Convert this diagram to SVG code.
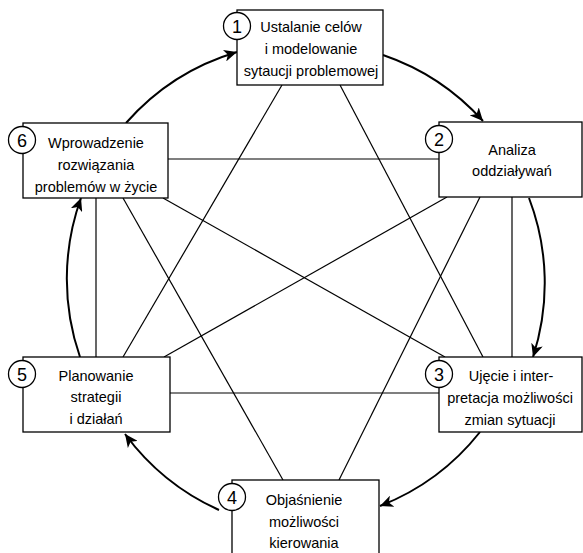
<svg xmlns="http://www.w3.org/2000/svg" width="583" height="553" viewBox="0 0 583 553">
  <style>
    .box { fill: #fff; stroke: #000; stroke-width: 1.3; }
    .num { fill: #fff; stroke: #000; stroke-width: 1.3; }
    .link { stroke: #000; stroke-width: 1.2; fill: none; }
    .cycle { stroke: #000; stroke-width: 2; fill: none; marker-end: url(#arrow); }
    text { font-family: "Liberation Sans", Arial, sans-serif; font-size: 14.5px; fill: #000; text-anchor: middle; }
    .digit { font-size: 18px; }
  </style>
  <defs>
    <marker id="arrow" markerUnits="userSpaceOnUse" markerWidth="14" markerHeight="12" refX="13" refY="6" orient="auto">
      <path d="M0,0 L13,6 L0,12 L3.5,6 Z" fill="#000"/>
    </marker>
  </defs>

  <rect width="583" height="553" fill="#fff"/>

  <!-- connectors -->
  <g id="connectors">
    <!-- straight links between the stages -->
    <line class="link" x1="168" y1="159" x2="439" y2="159"/>
    <line class="link" x1="170" y1="393" x2="439" y2="393"/>
    <line class="link" x1="96" y1="198" x2="96" y2="357"/>
    <line class="link" x1="512" y1="197" x2="512" y2="357"/>
    <line class="link" x1="123" y1="357" x2="282" y2="85"/>
    <line class="link" x1="340" y1="85" x2="483" y2="357"/>
    <line class="link" x1="163" y1="198" x2="445" y2="357"/>
    <line class="link" x1="447" y1="197" x2="164" y2="357"/>
    <line class="link" x1="123" y1="198" x2="283" y2="480"/>
    <line class="link" x1="480" y1="197" x2="339" y2="480"/>
    <!-- circular sequence 1 → 6 -->
    <path class="cycle" d="M383,55 A238,238 0 0 1 483,121"/>
    <path class="cycle" d="M529,198 A238,238 0 0 1 533,357"/>
    <path class="cycle" d="M480,432 A238,238 0 0 1 380,506"/>
    <path class="cycle" d="M219,510 A238,238 0 0 1 125,434"/>
    <path class="cycle" d="M80,357 A238,238 0 0 1 81,198"/>
    <path class="cycle" d="M126,123 A238,238 0 0 1 237,52"/>
  </g>

  <g id="node1">
    <rect class="box" x="237" y="10" width="146" height="75"/>
    <circle class="num" cx="237" cy="26" r="13.5"/>
    <text class="digit" x="237" y="32.5">1</text>
    <text x="311" y="32">Ustalanie celów</text>
    <text x="311" y="54">i modelowanie</text>
    <text x="311" y="76">sytaucji problemowej</text>
  </g>

  <g id="node2">
    <rect class="box" x="439" y="122" width="143" height="75"/>
    <circle class="num" cx="439" cy="139" r="13.5"/>
    <text class="digit" x="439" y="145.5">2</text>
    <text x="512" y="155">Analiza</text>
    <text x="512" y="176">oddziaływań</text>
  </g>

  <g id="node3">
    <rect class="box" x="439" y="357" width="143" height="75"/>
    <circle class="num" cx="439" cy="374" r="13.5"/>
    <text class="digit" x="439" y="380.5">3</text>
    <text x="511" y="381">Ujęcie i inter-</text>
    <text x="510" y="403">pretacja możliwości</text>
    <text x="510" y="425">zmian sytuacji</text>
  </g>

  <g id="node4">
    <rect class="box" x="232" y="480" width="147" height="85"/>
    <circle class="num" cx="232" cy="497" r="13.5"/>
    <text class="digit" x="232" y="503.5">4</text>
    <text x="304" y="505">Objaśnienie</text>
    <text x="304" y="527">możliwości</text>
    <text x="304" y="548">kierowania</text>
  </g>

  <g id="node5">
    <rect class="box" x="23" y="357" width="147" height="75"/>
    <circle class="num" cx="22" cy="374" r="13.5"/>
    <text class="digit" x="22" y="380.5">5</text>
    <text x="96" y="381">Planowanie</text>
    <text x="96" y="402">strategii</text>
    <text x="96" y="424">i działań</text>
  </g>

  <g id="node6">
    <rect class="box" x="23" y="123" width="145" height="75"/>
    <circle class="num" cx="22" cy="140" r="13.5"/>
    <text class="digit" x="22" y="146.5">6</text>
    <text x="96" y="148">Wprowadzenie</text>
    <text x="96" y="170">rozwiązania</text>
    <text x="96" y="192">problemów w życie</text>
  </g>
</svg>
